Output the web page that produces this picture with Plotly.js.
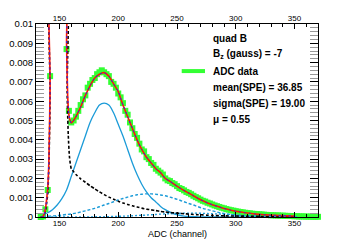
<!DOCTYPE html>
<html><head><meta charset="utf-8">
<script src="https://cdn.plot.ly/plotly-3.0.1.min.js"></script>
<style>html,body{margin:0;padding:0;background:#fff}</style>
</head><body>
<div id="chart" style="width:354px;height:241px"></div>
<script>
// ADC data (green points)
const adcX = [134,136,138,140,142,144,146,148,150,152,
154,156,158,160,162,164,166,168,170,172,
174,176,178,180,182,184,186,188,190,192,
194,196,198,200,202,204,206,208,210,212,
214,216,218,220,222,224,226,228,230,232,
234,236,238,240,242,244,246,248,250,252,
254,256,258,260,262,264,266,268,270,272,
274,276,278,280,282,284,286,288,290,292,
294,296,298,300,302,304,306,308,310,312,
314,316,318,320,322,324,326,328,330,332,
334,336,338,340,342,344,346,348,350,352,
354,356,358,360,362,364,366,368,370];
const adcY = [0,0.00003,0.0004,0.0014,0.0073,0.04,0.09,0.12,0.13,0.10,
0.05,0.0087,0.0055,0.0049,0.0050,0.0052,0.0055,0.0058,0.0061,0.0063,
0.0067,0.0069,0.0071,0.0072,0.0074,0.0075,0.0076,0.0075,0.0074,0.0073,
0.0070,0.0069,0.0067,0.0064,0.0062,0.0059,0.0055,0.0053,0.0049,0.0046,
0.0043,0.0041,0.0038,0.0035,0.0034,0.0031,0.0030,0.0028,0.0027,0.0025,
0.0024,0.0023,0.0022,0.0020,0.0019,0.00186,0.00176,0.0017,0.0016,0.0015,
0.00145,0.00138,0.0013,0.00125,0.00118,0.0011,0.00103,0.00097,0.0009,0.00084,
0.0008,0.00074,0.0007,0.00065,0.0006,0.00056,0.00052,0.00048,0.00045,0.00041,
0.00038,0.00035,0.00033,0.0003,0.00028,0.00026,0.00024,0.00022,0.0002,0.00019,
0.00017,0.00016,0.00015,0.00014,0.00013,0.00012,0.00011,0.0001,0.00009,0.00009,
0.00008,0.00008,0.00007,0.00007,0.00006,0.00006,0.00005,0.00005,0.00004,0.00004,
0.00003,0.00003,0.00003,0.00002,0.00002,0.00002,0.00001,0.00001,0.00001];

// Total fit (red solid, blue dotted overlay)
const fitX = [134,136,138,139,140,141,142,142.6,155.6,156,157,158,159,160,162,164,168,172,176,180,
184,188,192,196,200,204,208,212,216,220,224,228,232,236,240,244,248,252,256,260,
264,268,272,276,280,284,288,292,296,300,304,308,312,316,320,324,328,332,336,340,
344,348,350];
const fitTotal = [0,0.00003,0.0004,0.0009,0.0015,0.0030,0.0068,0.02,0.02,0.0090,0.0062,0.0053,0.0050,0.00487,0.0050,0.0052,0.0057,0.0063,0.0068,0.0072,
0.0074,0.00748,0.0073,0.0069,0.0065,0.0058,0.0052,0.0046,0.0040,0.0035,0.0031,0.0028,0.0025,0.0023,0.0020,0.00185,0.00168,0.00152,0.00137,0.00124,
0.0011,0.00096,0.00084,0.00073,0.00064,0.00056,0.00048,0.00041,0.00035,0.0003,0.00026,0.00022,0.00019,0.00016,0.00014,0.00012,0.0001,0.00009,0.00008,0.00007,
0.00006,0.00005,0.00005];

// Pedestal (black dashed)
const pedX = [134,136,138,139,140,141,142,142.6,155.6,156.5,157.5,158.5,160,162,164,168,172,176,180,184,
188,192,196,200,204,208,212,216,220,224,228,232,236,240,244,248,252,256,260,264,
268,272,276,280,290,300,310,320,335,350];
const pedY = [0,0.00002,0.0003,0.0007,0.0012,0.0027,0.0063,0.02,0.02,0.0065,0.0042,0.0031,0.0025,0.00235,0.0022,0.00198,0.0018,0.00162,0.00146,0.0013,
0.00116,0.00103,0.00092,0.00082,0.00073,0.00065,0.00058,0.00052,0.00046,0.00041,0.00037,0.00033,0.00029,0.00026,0.00023,0.00021,0.00019,0.00017,0.00015,0.00013,
0.00012,0.00011,0.00009,0.00008,0.00006,0.00005,0.00004,0.00003,0.00002,0.00001];

// Photo-electron components (light blue)
const peX = [136,140,144,148,152,156,160,164,168,172,
176,180,184,188,192,196,200,204,208,212,
216,220,224,228,232,236,240,244,248,252,
256,260,264,268,272,276,280,284,288,292,
296,300,304,308,312,316,320,324,328,332,
336,340,344,348,352];
const pe1 = [0.00012,0.00022,0.00038,0.00062,0.00095,0.0014,0.0021,0.0028,0.0035,0.0042,
0.0049,0.0054,0.0058,0.0059,0.0058,0.0054,0.0048,0.0042,0.0035,0.0028,
0.0022,0.0017,0.0013,0.0010,0.00078,0.00055,0.00038,0.00025,0.00015,0.00009,
0.00005,0.00003,0.00002,0.00001,0,0,0,0,0,0,
0,0,0,0,0,0,0,0,0,0,
0,0,0,0,0];
const pe2 = [0.00003,0.00004,0.000055,0.00007,0.0001,0.00013,0.00016,0.0002,0.00026,0.00032,
0.00038,0.00045,0.00053,0.00062,0.0007,0.00079,0.00088,0.00096,0.00103,0.0011,
0.00115,0.00118,0.0012,0.0012,0.00118,0.00114,0.0011,0.00103,0.00096,0.00088,
0.00079,0.0007,0.00062,0.00053,0.00045,0.00038,0.00032,0.00026,0.0002,0.00016,
0.00013,0.0001,0.00007,0.000055,0.00004,0.00003,0.00002,0.000015,0.00001,0.000007,
0.000005,0.000003,0.000002,0.000001,0.000001];
const pe3 = [0,0,0,0.000001,0.000001,0.000001,0.000002,0.000002,0.000003,0.000005,
0.000007,0.000009,0.000012,0.000016,0.00002,0.000027,0.000034,0.000043,0.000052,0.000063,
0.000076,0.000089,0.0001,0.00012,0.00013,0.00015,0.00016,0.00017,0.00018,0.00019,
0.0002,0.0002,0.0002,0.0002,0.00019,0.00018,0.00017,0.00016,0.00015,0.00013,
0.00012,0.0001,0.000089,0.000076,0.000063,0.000052,0.000043,0.000034,0.000027,0.00002,
0.000016,0.000012,0.000009,0.000007,0.000005];

const legendLines = ['<b>quad B</b>', '<b>B<sub>z</sub> (gauss) = -7</b>', '<b>ADC data</b>',
  '<b>mean(SPE) = 36.85</b>', '<b>sigma(SPE) = 19.00</b>', '<b>\u03bc = 0.55</b>'];
const xTitle = 'ADC (channel)';

const LB = '#1b9bd8';
const GREEN = '#33ff33';
const traces = [
  {x: adcX, y: adcY, type:'scatter', mode:'markers', cliponaxis:false,
   marker:{symbol:'square', size:6, color:GREEN, line:{width:0}}, name:'ADC data'},
  {x: peX, y: pe1, type:'scatter', mode:'lines', line:{color:LB, width:1.3, shape:'spline', smoothing:0.8}},
  {x: peX, y: pe2, type:'scatter', mode:'lines', line:{color:LB, width:1.4, dash:'3px,2px', shape:'spline', smoothing:0.8}},
  {x: peX, y: pe3, type:'scatter', mode:'lines', line:{color:LB, width:1.4, dash:'2px,2px', shape:'spline', smoothing:0.8}},
  {x: pedX, y: pedY, type:'scatter', mode:'lines', line:{color:'#000', width:1.6, dash:'3px,2px', shape:'spline', smoothing:0.5}},
  {x: fitX, y: fitTotal, type:'scatter', mode:'lines', line:{color:'#ff1a00', width:1.6, shape:'spline', smoothing:0.5}},
  {x: fitX, y: fitTotal, type:'scatter', mode:'lines', line:{color:'#2020ff', width:1, dash:'2px,3px', shape:'spline', smoothing:0.5}},
  {x: adcX, y: adcY, xaxis:'x2', type:'scatter', mode:'none', hoverinfo:'skip'}
];

const FONT = 'Liberation Sans, Arial, Helvetica, sans-serif';
const ys = [0.9258, 0.8428, 0.7561, 0.6731, 0.59, 0.507];
const annotations = legendLines.map((t, i) => ({
  text: t, xref:'paper', yref:'paper', x:0.6195, y:ys[i], xanchor:'left', yanchor:'middle',
  showarrow:false, font:{family:FONT, size:10, color:'#000'}
}));
annotations.push({text: xTitle, xref:'paper', yref:'paper', x:0.5, y:-0.086, xanchor:'center', yanchor:'middle',
  showarrow:false, font:{family:FONT, size:9, color:'#000'}});

const layout = {
  width:354, height:241,
  margin:{l:36, r:36, t:24, b:24, pad:0},
  paper_bgcolor:'#fff', plot_bgcolor:'#fff',
  showlegend:false,
  font:{family:FONT, color:'#000'},
  xaxis:{range:[130,370], tickmode:'linear', tick0:0, dtick:50, ticks:'inside', ticklen:5, tickwidth:1, tickcolor:'#000',
    mirror:'allticks', showline:true, linecolor:'#000', linewidth:1, showgrid:false, zeroline:false,
    ticklabelstandoff:-2,
    tickfont:{size:8, family:FONT}, minor:{dtick:10, ticks:'inside', ticklen:3, tickcolor:'#000', showgrid:false}},
  xaxis2:{overlaying:'x', side:'top', range:[130,370], tickmode:'linear', tick0:0, dtick:50, ticks:'',
    showline:false, showgrid:false, zeroline:false, tickfont:{size:8, family:FONT}},
  yaxis:{range:[0,0.01], tickmode:'linear', tick0:0, dtick:0.001, ticks:'inside', ticklen:8, tickcolor:'#000',
    mirror:'allticks', showline:true, linecolor:'#000', linewidth:1, showgrid:false, zeroline:false,
    tickfont:{size:9.5, family:FONT}, minor:{dtick:0.0002, ticks:'inside', ticklen:4, tickcolor:'#999', showgrid:false}},
  annotations: annotations,
  shapes:[{type:'line', xref:'paper', yref:'paper', x0:0.5167, x1:0.5993, y0:0.7561, y1:0.7561,
    line:{color:GREEN, width:4}}]
};

Plotly.newPlot('chart', traces, layout, {displayModeBar:false, staticPlot:true});
</script>
</body></html>
